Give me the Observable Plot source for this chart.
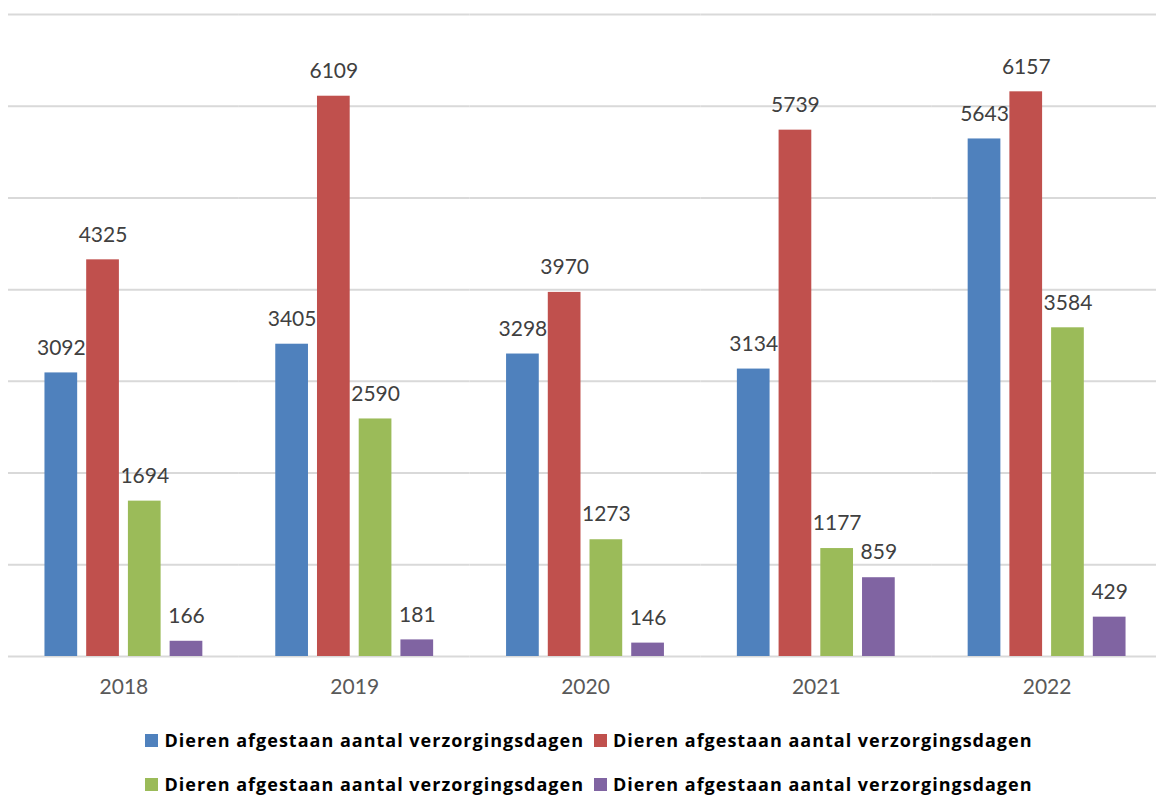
<!DOCTYPE html>
<html><head><meta charset="utf-8">
<script src="https://cdn.jsdelivr.net/npm/d3@7"></script>
<script src="https://cdn.jsdelivr.net/npm/@observablehq/plot@0.6"></script>
<style>
html,body{margin:0;padding:0;background:#fff;overflow:hidden;}
#chart{width:1156px;}
#chart svg{display:block;}
.legend{display:grid;grid-template-columns:auto auto;justify-content:center;column-gap:10px;padding-left:22px;font-family:"Open Sans",sans-serif;font-weight:bold;font-size:18px;letter-spacing:1px;color:#000;width:1156px;box-sizing:border-box;}
.item{display:flex;align-items:center;height:44px;white-space:nowrap;}
.sw{width:13px;height:13px;margin-right:6px;flex:none;}
</style></head><body><div id="chart"></div>
<script>
const years = ["2018", "2019", "2020", "2021", "2022"];
const seriesNames = [
  "Dieren afgestaan aantal verzorgingsdagen",
  "Dieren afgestaan aantal verzorgingsdagen",
  "Dieren afgestaan aantal verzorgingsdagen",
  "Dieren afgestaan aantal verzorgingsdagen"
];
const seriesColors = ["#4F81BD", "#C0504D", "#9BBB59", "#8064A2"];
const seriesBlue = [3092, 3405, 3298, 3134, 5643];
const seriesRed = [4325, 6109, 3970, 5739, 6157];
const seriesGreen = [1694, 2590, 1273, 1177, 3584];
const seriesPurple = [166, 181, 146, 859, 429];
const gridTicks = [0, 1000, 2000, 3000, 4000, 5000, 6000, 7000];

const seriesValues = [seriesBlue, seriesRed, seriesGreen, seriesPurple];
const rows = years.flatMap((yr, i) => seriesValues.map((vals, s) => ({year: yr, s, value: vals[i]})));

const chart = Plot.plot({
  width: 1156, height: 718,
  marginLeft: 8, marginRight: -6, marginTop: 14, marginBottom: 62,
  style: {fontFamily: "Lato, sans-serif", fontSize: "21px", background: "#fff", color: "#595959", overflow: "hidden"},
  facet: {data: rows, x: "year"},
  fx: {domain: years, padding: 0, round: false, label: null, tickSize: 0, tickPadding: 23},
  x: {domain: [0, 1, 2, 3], paddingInner: 0.216, paddingOuter: 0.874, round: false, axis: null},
  y: {domain: [0, 7000], axis: null},
  color: {domain: [0, 1, 2, 3], range: seriesColors},
  marks: [
    Plot.ruleY(gridTicks, {stroke: "#d9d9d9", strokeWidth: 2}),
    Plot.barY(rows, {x: "s", y: "value", fill: "s"}),
    Plot.text(rows, {x: "s", y: "value", text: d => String(d.value), dy: -25, fill: "#404040", fontSize: 21})
  ]
});
document.getElementById("chart").appendChild(chart);

const legend = document.createElement("div");
legend.className = "legend";
seriesNames.forEach((name, i) => {
  const item = document.createElement("div");
  item.className = "item";
  const sw = document.createElement("span");
  sw.className = "sw";
  sw.style.background = seriesColors[i];
  const t = document.createElement("span");
  t.textContent = name;
  item.appendChild(sw); item.appendChild(t);
  legend.appendChild(item);
});
document.getElementById("chart").appendChild(legend);
</script>
</body></html>
